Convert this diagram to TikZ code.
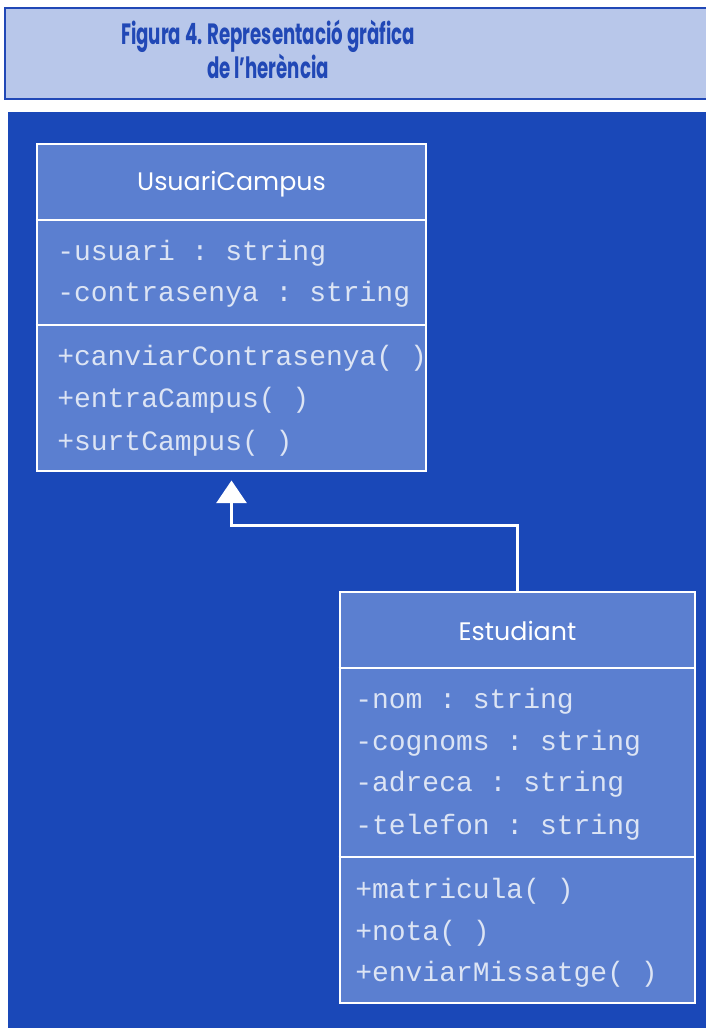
\documentclass[tikz,border=0pt]{standalone}
\usepackage{fontspec}
\setmainfont{Poppins}
\setmonofont{Liberation Mono}
\newfontfamily\figfont[FakeStretch=0.62]{Poppins}
\usetikzlibrary{arrows.meta}
\definecolor{fons}{HTML}{1A48B8}
\definecolor{capfons}{HTML}{B8C7EA}
\definecolor{captext}{HTML}{2148B6}
\definecolor{caixa}{HTML}{5B7FD0}
\definecolor{lletra}{HTML}{DCE4F4}
\tikzset{
  classe/.style={draw=white, line width=2.2pt, fill=caixa, inner sep=0pt},
  linia/.style={white, line width=2.2pt},
  titol/.style={text=white, font=\fontsize{19}{19}\selectfont},
  camp/.style={anchor=mid west, text=lletra, inner sep=0pt, font=\ttfamily\fontsize{21}{21}\selectfont},
  herencia/.style={white, line width=2.2pt, -{Triangle[width=22.5pt, length=17pt]}, shorten >=6pt}
}
\begin{document}
\begin{tikzpicture}[x=0.75pt, y=-0.75pt]
    \useasboundingbox (0,0) rectangle (706,1028);
    % capcalera
    \node[draw=captext, line width=1pt, fill=capfons, minimum width=530.25pt, minimum height=68.25pt] (capcalera) at (358.5,53.5) {};
    \node[text=captext, align=center, font=\figfont\bfseries\fontsize{22}{23.5}\selectfont] (titolfig) at (268,49) {Figura 4. Representació gràfica\\de l’herència};
    % fons blau
    \fill[fons] (8,112) rectangle (712,1034);
    % classe UsuariCampus
    \node[classe, minimum width=291.75pt, minimum height=245.25pt] (usuari) at (231.5,307.5) {};
    \draw[linia] (usuari.west |- 0,220) -- (usuari.east |- 0,220);
    \draw[linia] (usuari.west |- 0,325) -- (usuari.east |- 0,325);
    \node[titol] (nomusuari) at (231.5,184) {UsuariCampus};
    \node[camp] (u1) at (57,257) {-usuari : string};
    \node[camp] (u2) at (57,298) {-contrasenya : string};
    \node[camp] (u3) at (57,362) {+canviarContrasenya( )};
    \node[camp] (u4) at (57,404) {+entraCampus( )};
    \node[camp] (u5) at (57,447) {+surtCampus( )};
    % classe Estudiant
    \node[classe, minimum width=266.25pt, minimum height=308.25pt] (estudiant) at (517.5,797.5) {};
    \draw[linia] (estudiant.west |- 0,668) -- (estudiant.east |- 0,668);
    \draw[linia] (estudiant.west |- 0,857) -- (estudiant.east |- 0,857);
    \node[titol] (nomestudiant) at (517.5,631) {Estudiant};
    \node[camp] (e1) at (355,705) {-nom : string};
    \node[camp] (e2) at (355,747) {-cognoms : string};
    \node[camp] (e3) at (355,788) {-adreca : string};
    \node[camp] (e4) at (355,831) {-telefon : string};
    \node[camp] (e5) at (355,895) {+matricula( )};
    \node[camp] (e6) at (355,937) {+nota( )};
    \node[camp] (e7) at (355,978) {+enviarMissatge( )};
    % herencia
    \draw[herencia] (estudiant.north) -- ++(0,-65) -| (usuari.south);
\end{tikzpicture}
\end{document}
